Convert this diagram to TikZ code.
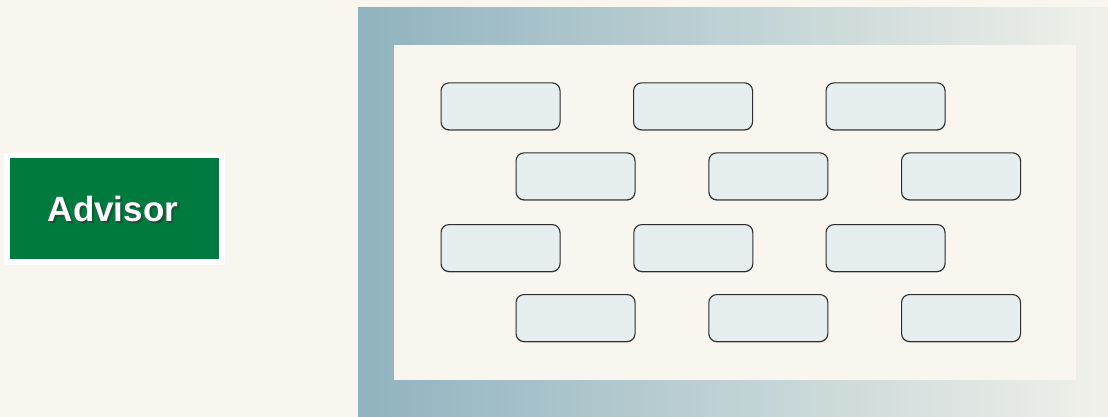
\documentclass[tikz,border=0pt]{standalone}
\usepackage{fontspec}
\setmainfont{Liberation Sans}
\definecolor{bgc}{HTML}{F9F6F0}
\definecolor{frameL}{HTML}{8FB3BF}
\definecolor{frameR}{HTML}{F1F1EA}
\definecolor{advgreen}{HTML}{007A3E}
\definecolor{boxfill}{HTML}{E6EEF0}
\definecolor{boxline}{HTML}{2E2E2E}
\tikzset{
  slot/.style={draw=boxline, line width=1.1pt, fill=boxfill, rounded corners=8pt,
    minimum width=119pt, minimum height=47pt, inner sep=0pt, anchor=north west},
  slotshadow/.style={fill=black!45, rounded corners=8pt, minimum width=119pt,
    minimum height=47pt, inner sep=0pt, anchor=north west, draw=none}
}
\begin{document}
\begin{tikzpicture}[x=1pt,y=-1pt]
\useasboundingbox (0,0) rectangle (1108,417);
\fill[bgc] (0,0) rectangle (1108,417);
% gradient frame
\shade[left color=frameL, right color=frameR, shading angle=90] (358,8) rectangle (1108,417);
\fill[bgc] (394,45) rectangle (1076,380);
% advisor
\node[fill=white, minimum width=221pt, minimum height=112pt, inner sep=0pt, anchor=north west] (advframe) at (4,153) {};
\node[fill=advgreen, minimum width=209pt, minimum height=101pt, inner sep=0pt, anchor=north west] (advbox) at (10,158) {};
\node[text=black!80, opacity=0.6, font=\bfseries\fontsize{35}{40}\selectfont, anchor=base] (advshadow) at (115,223.7) {Advisor};
\node[text=white, font=\bfseries\fontsize{35}{40}\selectfont, anchor=base] (advtext) at (113,221.7) {Advisor};
% slots
\foreach \n/\x/\y in {a/440.5/82.3, b/633/82.3, c/825.5/82.3,
                     d/515.5/152.3, e/708.3/152.3, f/901/152.3,
                     g/440.5/224, h/633.3/224, i/825.5/224,
                     j/515.5/294, k/708.3/294, l/901/294}{
  \node[slotshadow] (s\n) at (\x+0.3,\y+1.2) {};
  \node[slot] (\n) at (\x,\y) {};
}
\end{tikzpicture}
\end{document}
